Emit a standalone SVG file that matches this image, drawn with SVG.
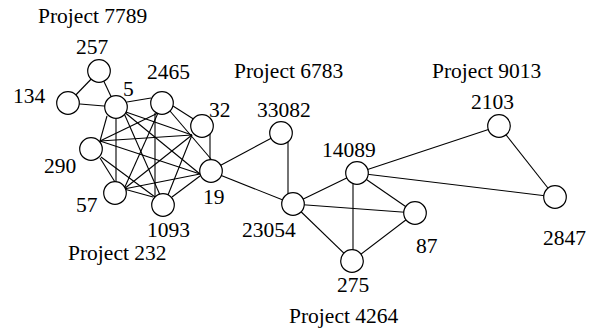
<svg xmlns="http://www.w3.org/2000/svg" width="596" height="329" viewBox="0 0 596 329">
  <style>
    .edge { stroke: #000; stroke-width: 1.1; fill: none; }
    .node circle { fill: #fff; stroke: #000; stroke-width: 1.2; }
    text { font-family: "Liberation Serif", "Times New Roman", "DejaVu Serif", serif; font-size: 21.5px; fill: #000; }
  </style>
  <rect width="596" height="329" fill="#fff"/>

  <!-- project titles -->
  <text x="38" y="23">Project 7789</text>
  <text x="68" y="260">Project 232</text>
  <text x="234" y="78">Project 6783</text>
  <text x="289" y="323">Project 4264</text>
  <text x="432" y="78">Project 9013</text>

  <g id="connectors">
    <!-- Project 7789 -->
    <line class="edge" x1="99" y1="71" x2="68" y2="103"/>
    <line class="edge" x1="99" y1="71" x2="116" y2="107"/>
    <line class="edge" x1="68" y1="103" x2="116" y2="107"/>
    <!-- Project 232: every pair of its 7 members is linked; edges meet the circles at fixed ports -->
    <line class="edge" x1="127" y1="102" x2="151" y2="98"/>
    <line class="edge" x1="123" y1="111" x2="192" y2="135"/>
    <line class="edge" x1="107" y1="116" x2="100" y2="141"/>
    <line class="edge" x1="116" y1="119" x2="116" y2="182"/>
    <line class="edge" x1="123" y1="111" x2="160" y2="195"/>
    <line class="edge" x1="123" y1="111" x2="200" y2="174"/>
    <line class="edge" x1="173" y1="106" x2="195" y2="120"/>
    <line class="edge" x1="158" y1="113" x2="100" y2="141"/>
    <line class="edge" x1="158" y1="113" x2="124" y2="189"/>
    <line class="edge" x1="155" y1="113" x2="155" y2="197"/>
    <line class="edge" x1="170" y1="111" x2="211" y2="159"/>
    <line class="edge" x1="192" y1="135" x2="100" y2="141"/>
    <line class="edge" x1="192" y1="135" x2="124" y2="189"/>
    <line class="edge" x1="192" y1="135" x2="168" y2="195"/>
    <line class="edge" x1="210" y1="134" x2="210" y2="160"/>
    <line class="edge" x1="100" y1="158" x2="115" y2="182"/>
    <line class="edge" x1="101" y1="157" x2="155" y2="197"/>
    <line class="edge" x1="100" y1="141" x2="200" y2="174"/>
    <line class="edge" x1="124" y1="189" x2="153" y2="197"/>
    <line class="edge" x1="124" y1="189" x2="200" y2="174"/>
    <line class="edge" x1="172" y1="197" x2="200" y2="176"/>
    <!-- Project 6783 -->
    <line class="edge" x1="210" y1="171" x2="281" y2="133"/>
    <line class="edge" x1="210" y1="171" x2="293" y2="204"/>
    <line class="edge" x1="288" y1="133" x2="288" y2="204"/>
    <!-- Project 4264 -->
    <line class="edge" x1="293" y1="204" x2="357" y2="173"/>
    <line class="edge" x1="293" y1="204" x2="415" y2="213"/>
    <line class="edge" x1="293" y1="204" x2="352" y2="261"/>
    <line class="edge" x1="353" y1="173" x2="353" y2="261"/>
    <line class="edge" x1="357" y1="173" x2="415" y2="213"/>
    <line class="edge" x1="415" y1="213" x2="352" y2="261"/>
    <!-- Project 9013 -->
    <line class="edge" x1="357" y1="173" x2="499" y2="126"/>
    <line class="edge" x1="357" y1="173" x2="555" y2="197"/>
    <line class="edge" x1="499" y1="126" x2="555" y2="197"/>
  </g>

  <g id="n257" class="node"><circle cx="99" cy="71" r="11.3"/><text x="76" y="54">257</text></g>
  <g id="n134" class="node"><circle cx="68" cy="103" r="11.3"/><text x="13" y="103">134</text></g>
  <g id="n5" class="node"><circle cx="116" cy="107" r="11.3"/><text x="123" y="96">5</text></g>
  <g id="n2465" class="node"><circle cx="162" cy="103" r="11.3"/><text x="147" y="79">2465</text></g>
  <g id="n32" class="node"><circle cx="202" cy="126" r="11.3"/><text x="209" y="117">32</text></g>
  <g id="n290" class="node"><circle cx="91" cy="149" r="11.3"/><text x="44" y="173">290</text></g>
  <g id="n57" class="node"><circle cx="115" cy="193" r="11.3"/><text x="76" y="212">57</text></g>
  <g id="n1093" class="node"><circle cx="163" cy="205" r="11.3"/><text x="147" y="237">1093</text></g>
  <g id="n19" class="node"><circle cx="211" cy="171" r="11.3"/><text x="203" y="204">19</text></g>
  <g id="n33082" class="node"><circle cx="281" cy="133" r="11.3"/><text x="257" y="117">33082</text></g>
  <g id="n23054" class="node"><circle cx="293" cy="204" r="11.3"/><text x="242" y="237">23054</text></g>
  <g id="n14089" class="node"><circle cx="357" cy="173" r="11.3"/><text x="322" y="157">14089</text></g>
  <g id="n87" class="node"><circle cx="415" cy="213" r="11.3"/><text x="416" y="253">87</text></g>
  <g id="n275" class="node"><circle cx="352" cy="261" r="11.3"/><text x="337" y="292">275</text></g>
  <g id="n2103" class="node"><circle cx="499" cy="126" r="11.3"/><text x="471" y="109">2103</text></g>
  <g id="n2847" class="node"><circle cx="555" cy="197" r="11.3"/><text x="543" y="245">2847</text></g>
</svg>
